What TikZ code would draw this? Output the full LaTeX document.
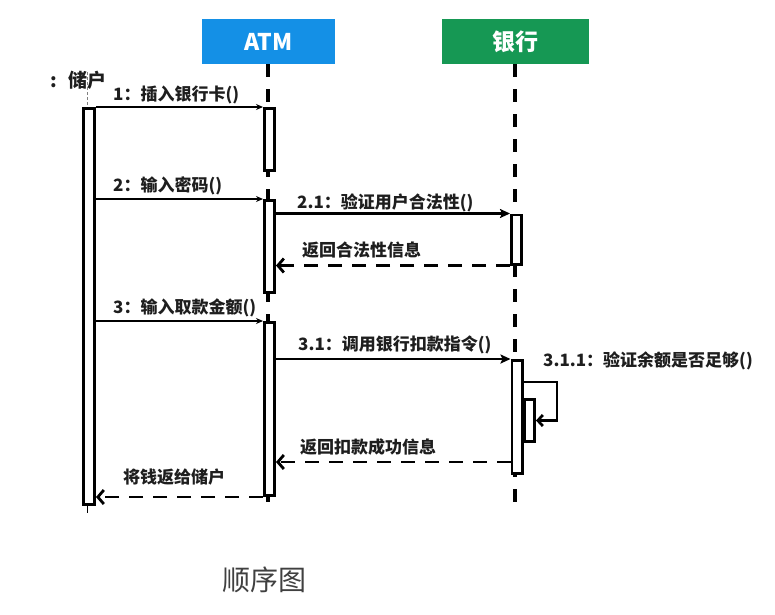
\documentclass[tikz,border=0pt]{standalone}
\usepackage{fontspec}
\newfontfamily\cjk{Noto Sans CJK SC}
\usetikzlibrary{arrows.meta}
\definecolor{atmblue}{RGB}{20,144,230}
\definecolor{bankgreen}{RGB}{22,152,84}
\definecolor{ink}{RGB}{30,30,30}
\begin{document}
\begin{tikzpicture}[x=1pt, y=-1pt,
    head/.style={minimum height=45pt, inner sep=0pt, text=white, font=\cjk\bfseries\fontsize{23}{23}\selectfont},
    life/.style={line width=3.5pt, dash pattern=on 13pt off 12pt},
    act/.style={draw, line width=2.7pt, fill=white, minimum width=10.3pt, inner sep=0pt},
    lbl/.style={anchor=base west, inner sep=0pt, text=ink, font=\cjk\bfseries\fontsize{17}{17}\selectfont},
    msg/.style={line width=1.1pt, -{Stealth[length=7pt,width=6pt]}},
    call/.style={line width=2.6pt, -{Stealth[length=10pt,width=9pt,inset=2pt]}},
    ret/.style={line width=2.8pt, dash pattern=on 14pt off 10pt, -{Straight Barb[length=6pt,width=14pt]}}]

    \useasboundingbox (0,0) rectangle (775,614);

    % heads and lifelines
    \node[head, fill=atmblue, minimum width=133pt] (atm) at (268.5,41.5) {ATM};
    \node[head, fill=bankgreen, minimum width=147pt] (bank) at (515.5,41.5) {银行};
    \coordinate (atmend) at (268,512);
    \coordinate (bankend) at (515,512);
    \draw[life] (268,64) -- (atmend);
    \draw[life] (515,64) -- (bankend);
    \node[lbl, font=\cjk\bfseries\fontsize{19}{19}\selectfont] (cust) at (50,87) {:\hspace{12pt}储户};
    \coordinate (custtop) at (87,72);
    \coordinate (custend) at (87,513);
    \draw[line width=1pt, gray, dash pattern=on 3pt off 2pt] (custtop) -- (87,107);
    \draw[line width=1pt] (87,506) -- (custend);

    % activations
    \node[act, minimum width=11.3pt, minimum height=396.3pt] (cu) at (89,306.5) {};
    \node[act, minimum height=62.3pt] (a1) at (269.5,139.5) {};
    \node[act, minimum height=92.3pt] (a2) at (269.5,246.5) {};
    \node[act, minimum height=173.3pt] (a3) at (269.5,409) {};
    \node[act, minimum height=49.3pt] (b1) at (516.5,239.5) {};
    \node[act, minimum height=113.3pt] (b2) at (517,417) {};
    \node[act, minimum height=42.3pt] (b3) at (529.5,420.5) {};

    % messages
    \draw[msg] (cu.north east) -- (a1.north west);
    \draw[msg] (cu.east |- a2.north) -- (a2.north west);
    \draw[call] (a2.east |- b1.north) -- (b1.north west);
    \draw[ret] (b1.south west) -- (a2.east |- b1.south);
    \draw[msg] (cu.east |- a3.north) -- (a3.north west);
    \draw[call] (a3.east |- b2.north) -- (b2.north west);
    \draw[line width=2.7pt, -{Straight Barb[length=5pt,width=11pt]}] (b2.east |- 0,382) -- (557,382) |- (b3.east);
    \draw[ret] (b2.west |- 0,462) -- (a3.east |- 0,462);
    \draw[ret] (a3.south west) -- (cu.east |- a3.south);

    % labels
    \node[lbl] (m1) at (113,100) {1：插入银行卡()};
    \node[lbl] (m2) at (113,191) {2：输入密码()};
    \node[lbl] (m21) at (297,208) {2.1：验证用户合法性()};
    \node[lbl] (r21) at (302,256) {返回合法性信息};
    \node[lbl] (m3) at (113,313) {3：输入取款金额()};
    \node[lbl] (m31) at (298,350) {3.1：调用银行扣款指令()};
    \node[lbl] (m311) at (543,366) {3.1.1：验证余额是否足够()};
    \node[lbl] (r31) at (300,453) {返回扣款成功信息};
    \node[lbl] (r3) at (123,483) {将钱返给储户};

    \node[anchor=base west, inner sep=0pt, text=black!75, font=\cjk\fontsize{28}{28}\selectfont] (title) at (222,590) {顺序图};
\end{tikzpicture}
\end{document}
